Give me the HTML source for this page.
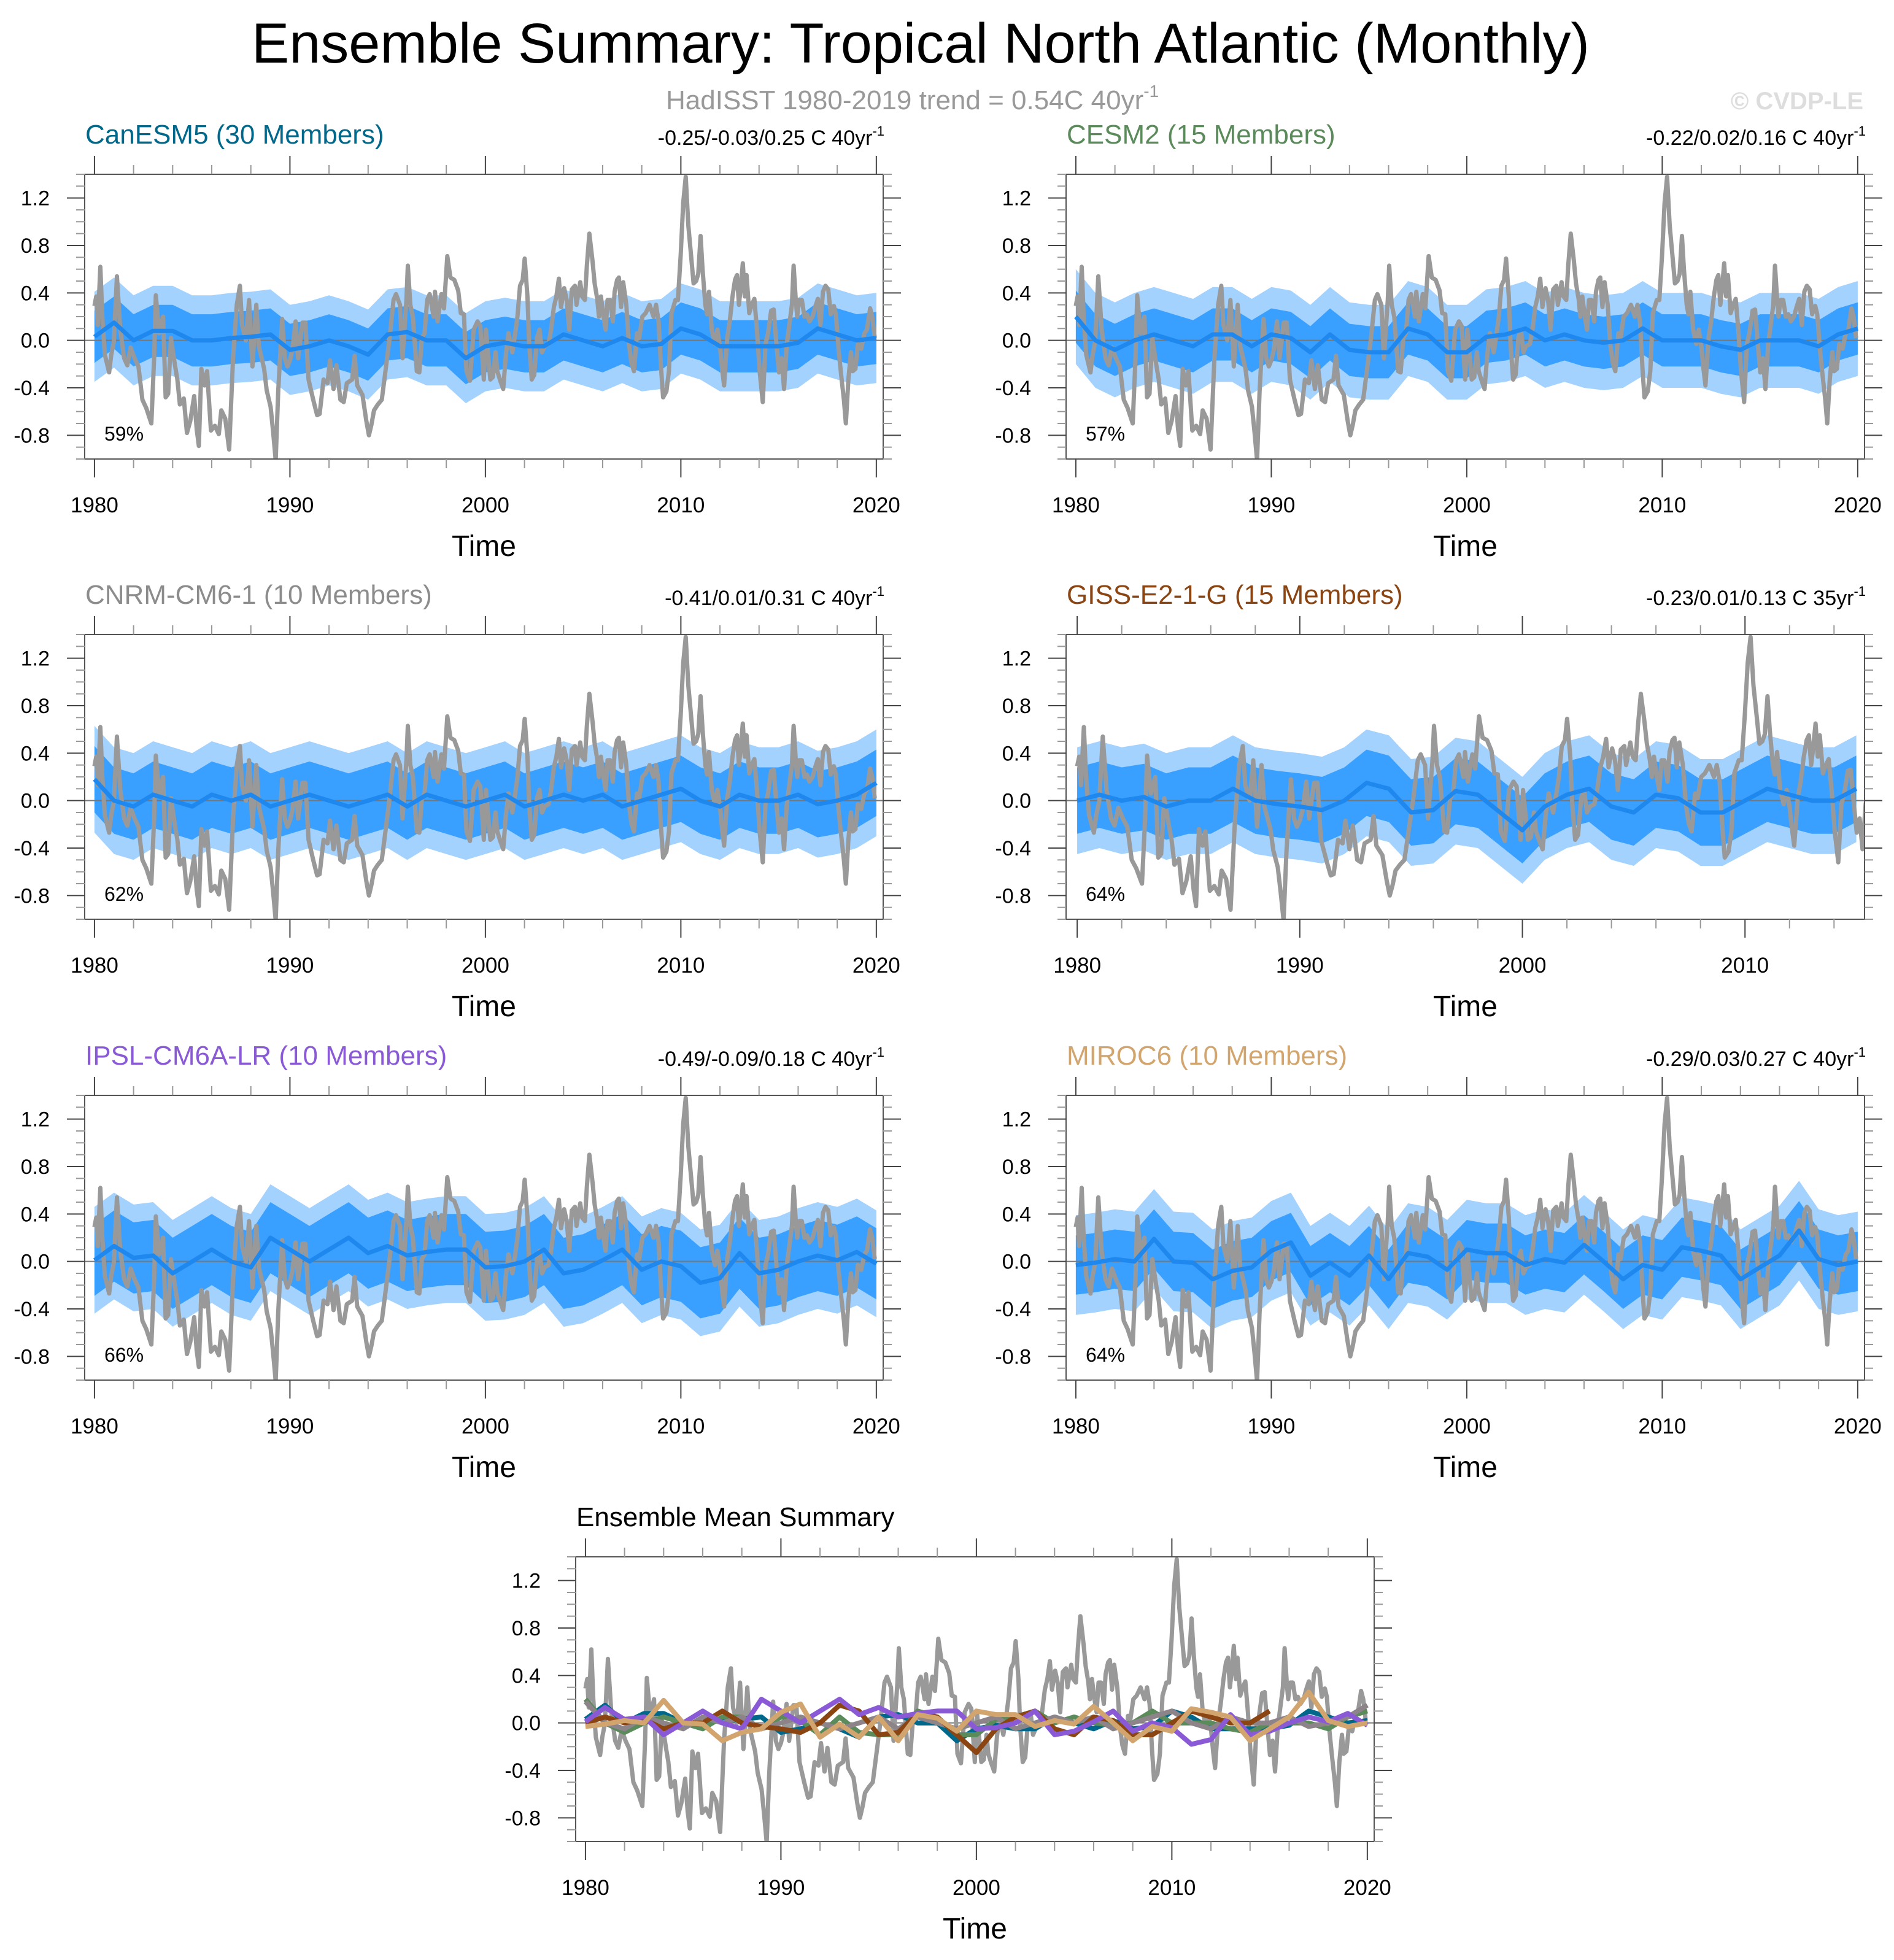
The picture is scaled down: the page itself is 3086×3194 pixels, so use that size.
<!DOCTYPE html>
<html><head><meta charset="utf-8"><title>Ensemble Summary: Tropical North Atlantic (Monthly)</title>
<style>
html,body{margin:0;padding:0;background:#fff;}
svg{display:block;font-family:"Liberation Sans",Arial,sans-serif;}
</style></head>
<body>
<svg id="fig" width="3086" height="3194" viewBox="0 0 3086 3194" xmlns="http://www.w3.org/2000/svg">
<rect x="0" y="0" width="3086" height="3194" fill="#fff"/>
<text x="1500" y="102" font-size="92" text-anchor="middle" fill="#000" textLength="2180" lengthAdjust="spacingAndGlyphs">Ensemble Summary: Tropical North Atlantic (Monthly)</text>
<text x="1085" y="178" font-size="44" fill="#999">HadISST 1980-2019 trend = 0.54C 40yr<tspan font-size="28" dy="-20">-1</tspan></text>
<text x="3036" y="178" font-size="40" font-weight="bold" fill="#ddd" text-anchor="end">© CVDP-LE</text>
<g id="panels"></g>
</svg>
<script>
// ---- data ----
const xTickYears = [1980,1990,2000,2010,2020];
const yTickVals = [-0.8,-0.4,0.0,0.4,0.8,1.2];
const meanYears = [1980,1981,1982,1983,1984,1985,1986,1987,1988,1989,1990,1991,1992,1993,1994,1995,1996,1997,1998,1999,2000,2001,2002,2003,2004,2005,2006,2007,2008,2009,2010,2011,2012,2013,2014,2015,2016,2017,2018,2019,2020];
const obsYears = [1980.00,1980.09,1980.17,1980.30,1980.40,1980.53,1980.75,1980.86,1980.99,1981.15,1981.32,1981.52,1981.68,1981.85,1982.05,1982.25,1982.45,1982.65,1982.91,1983.05,1983.14,1983.31,1983.51,1983.64,1983.77,1983.91,1984.11,1984.24,1984.37,1984.57,1984.73,1984.90,1985.10,1985.23,1985.34,1985.47,1985.63,1985.76,1985.96,1986.16,1986.36,1986.49,1986.69,1986.89,1987.09,1987.28,1987.44,1987.55,1987.75,1987.91,1988.08,1988.28,1988.41,1988.68,1988.81,1989.01,1989.14,1989.27,1989.40,1989.60,1989.74,1989.87,1990.00,1990.13,1990.29,1990.42,1990.64,1990.79,1990.95,1991.19,1991.39,1991.52,1991.72,1991.92,1992.05,1992.23,1992.38,1992.58,1992.75,1992.91,1993.18,1993.31,1993.44,1993.71,1993.91,1994.04,1994.17,1994.30,1994.50,1994.70,1994.90,1995.10,1995.30,1995.43,1995.63,1995.76,1995.96,1996.03,1996.16,1996.29,1996.49,1996.62,1996.75,1996.89,1997.02,1997.15,1997.35,1997.42,1997.55,1997.75,1997.88,1998.05,1998.21,1998.41,1998.61,1998.74,1998.90,1999.03,1999.21,1999.40,1999.60,1999.74,1999.92,2000.03,2000.25,2000.38,2000.52,2000.61,2000.74,2000.91,2001.05,2001.18,2001.38,2001.51,2001.64,2001.77,2001.91,2002.01,2002.15,2002.24,2002.37,2002.50,2002.64,2002.77,2002.90,2003.03,2003.23,2003.36,2003.50,2003.63,2003.76,2003.87,2004.03,2004.16,2004.29,2004.42,2004.58,2004.66,2004.75,2004.85,2004.95,2005.09,2005.19,2005.32,2005.48,2005.59,2005.72,2005.81,2005.91,2006.04,2006.15,2006.25,2006.38,2006.52,2006.61,2006.74,2006.83,2006.94,2007.05,2007.21,2007.34,2007.47,2007.60,2007.76,2007.87,2008.03,2008.20,2008.40,2008.60,2008.73,2008.86,2008.99,2009.09,2009.26,2009.39,2009.52,2009.72,2009.85,2009.99,2010.12,2010.25,2010.38,2010.52,2010.65,2010.78,2010.89,2011.01,2011.11,2011.25,2011.34,2011.44,2011.58,2011.74,2011.87,2012.00,2012.11,2012.21,2012.37,2012.50,2012.64,2012.77,2012.87,2012.97,2013.06,2013.17,2013.27,2013.36,2013.50,2013.63,2013.76,2013.89,2014.03,2014.19,2014.33,2014.46,2014.62,2014.75,2014.89,2015.02,2015.15,2015.28,2015.42,2015.55,2015.68,2015.77,2015.88,2015.95,2016.05,2016.19,2016.32,2016.45,2016.58,2016.74,2016.87,2017.01,2017.14,2017.27,2017.40,2017.54,2017.67,2017.83,2017.93,2018.07,2018.20,2018.34,2018.44,2018.57,2018.70,2018.79,2018.93,2019.06,2019.23,2019.39,2019.52,2019.68,2019.79,2019.92];
const obsVals = [0.29,0.37,0.13,0.62,0.20,-0.12,-0.27,-0.12,-0.01,0.54,0.09,-0.15,-0.21,-0.06,-0.15,-0.22,-0.50,-0.57,-0.70,-0.15,0.38,0.06,0.20,-0.48,-0.45,0.02,-0.20,-0.33,-0.54,-0.49,-0.78,-0.68,-0.47,-0.75,-0.89,-0.24,-0.38,-0.26,-0.76,-0.72,-0.79,-0.59,-0.66,-0.92,-0.15,0.30,0.46,0.13,0.00,0.34,-0.22,0.30,-0.05,-0.24,-0.42,-0.56,-0.77,-1.01,-0.43,0.18,-0.15,-0.22,-0.17,-0.08,0.16,-0.15,0.15,0.15,-0.33,-0.50,-0.63,-0.62,-0.33,-0.36,-0.17,-0.41,-0.21,-0.50,-0.52,-0.36,-0.33,-0.13,-0.38,-0.46,-0.68,-0.80,-0.71,-0.59,-0.54,-0.50,-0.24,0.02,0.34,0.39,0.30,-0.15,0.34,0.63,0.30,0.20,-0.26,-0.27,0.02,0.06,0.34,0.39,0.20,0.41,0.16,0.39,0.27,0.71,0.53,0.51,0.42,0.23,0.22,-0.26,-0.34,0.09,0.16,0.12,-0.33,0.09,-0.33,-0.31,-0.10,-0.26,-0.33,-0.41,-0.12,0.06,-0.10,0.04,0.20,0.46,0.51,0.69,0.37,-0.03,-0.33,-0.29,0.02,0.09,-0.10,-0.05,-0.03,0.09,0.28,0.37,0.52,0.28,0.44,0.34,0.09,0.43,0.46,0.30,0.39,0.49,0.37,0.34,0.63,0.90,0.67,0.48,0.35,0.20,0.37,0.20,0.09,0.34,0.34,0.16,0.41,0.51,0.53,0.28,0.49,0.30,-0.03,-0.19,-0.26,0.06,0.02,0.20,0.23,0.30,0.20,0.30,0.16,-0.24,-0.48,-0.43,-0.26,0.23,0.34,0.34,0.72,1.16,1.38,0.97,0.72,0.48,0.50,0.56,0.88,0.60,0.30,0.22,0.41,0.09,-0.03,0.09,-0.05,-0.24,-0.38,0.02,0.16,0.37,0.51,0.55,0.30,0.44,0.65,0.37,0.55,0.23,0.30,0.35,0.09,-0.26,-0.52,-0.03,0.06,0.25,0.26,-0.03,-0.27,-0.15,-0.41,-0.03,0.13,0.30,0.63,0.34,0.20,0.34,0.34,0.20,0.22,0.16,0.20,0.28,0.35,0.13,0.41,0.46,0.43,0.22,0.29,0.22,-0.08,-0.29,-0.50,-0.70,-0.33,-0.10,-0.26,-0.24,-0.03,-0.07,0.06,0.09,0.27,0.20,0.02];
const canMean  = [0.03,0.15,0.00,0.08,0.08,0.00,0.00,0.02,0.03,0.05,-0.08,-0.05,0.00,-0.05,-0.12,0.05,0.07,0.00,0.00,-0.15,-0.05,-0.02,-0.05,-0.05,0.05,0.00,-0.05,0.02,-0.05,-0.03,0.10,0.05,-0.05,-0.05,-0.05,-0.05,-0.02,0.10,0.05,0.00,0.02];
const cesmMean = [0.20,0.00,-0.08,0.00,0.05,0.00,-0.05,0.05,0.05,-0.05,0.05,0.02,-0.10,0.05,-0.08,-0.10,-0.10,0.10,0.05,-0.10,-0.10,0.03,0.05,0.10,0.00,0.05,0.00,-0.02,0.00,0.10,0.00,0.00,0.00,-0.05,-0.08,0.00,0.00,0.00,-0.05,0.05,0.10];
const cnrmMean = [0.18,0.00,-0.05,0.05,0.00,-0.05,0.05,0.00,0.05,-0.05,0.00,0.05,0.00,-0.05,0.00,0.05,-0.05,0.05,0.00,-0.05,0.00,0.05,-0.05,0.00,0.05,0.00,0.05,-0.05,0.00,0.05,0.10,0.00,-0.05,0.05,0.00,0.00,0.05,-0.03,0.00,0.05,0.15];
const gissMean = [0.00,0.05,0.00,0.03,-0.05,0.00,0.00,0.10,0.00,-0.03,-0.05,-0.08,0.00,0.15,0.10,-0.10,-0.08,0.08,0.05,-0.10,-0.25,-0.05,0.05,0.10,-0.05,-0.10,0.05,0.02,-0.10,-0.10,0.00,0.10,0.05,0.00,0.00,0.10];
const ipslMean = [0.01,0.13,0.03,0.05,-0.10,0.00,0.10,0.00,-0.05,0.20,0.10,0.00,0.10,0.20,0.07,0.13,0.05,0.08,0.10,0.10,-0.05,-0.04,0.00,0.10,-0.10,-0.07,0.01,0.10,-0.07,0.00,-0.04,-0.18,-0.14,0.07,-0.10,-0.07,0.00,0.05,0.01,0.08,-0.02];
const mirocMean = [-0.03,-0.01,0.02,0.00,0.19,0.00,-0.01,-0.15,-0.08,-0.05,0.09,0.16,-0.12,-0.01,-0.12,0.05,-0.15,0.07,0.04,-0.07,0.10,0.07,0.07,-0.03,0.02,-0.01,0.14,0.00,-0.15,-0.03,-0.07,0.12,0.09,0.05,-0.15,-0.05,0.05,0.26,0.02,-0.03,0.00];
const outerSpread = [0.38,0.40,0.45,0.45,0.45,0.42];
const innerSpread = [0.22,0.22,0.28,0.28,0.30,0.25];

// ---- layout ----
const NS = "http://www.w3.org/2000/svg";
const root = document.getElementById('panels');
const W = 1301, H = 464, YMIN = -1.0, YMAX = 1.4;
function mk(tag, attrs, parent){
  const e = document.createElementNS(NS, tag);
  for (const k in attrs) e.setAttribute(k, attrs[k]);
  (parent||root).appendChild(e);
  return e;
}
let clipId = 0;
function drawPanel(cfg){
  const g = mk('g', {});
  
  
  const L = cfg.x, T = cfg.y, R = L + W, B = T + H;
  const x0 = 1979.5, x1 = cfg.xmax;
  const sx = v => L + (v - x0) / (x1 - x0) * W;
  const sy = v => B - (v - YMIN) / (YMAX - YMIN) * H;
  const t = mk('text', {x: L + 1, y: T - 50, 'font-size': 44, fill: cfg.color}, g);
  t.textContent = cfg.title;
  
  
  if (cfg.range){
    const r = mk('text', {x: R + 2, y: T - 48, 'font-size': 34, 'text-anchor': 'end', fill: '#000'}, g);
    r.textContent = cfg.range;
    const sup = mk('tspan', {'font-size': 22, dy: -15}, r);
    sup.textContent = '-1';
    
    
  }
  clipId++;
  const cp = mk('clipPath', {id: 'c' + clipId}, g);
  mk('rect', {x: L, y: T, width: W, height: H}, cp);
  const plot = mk('g', {'clip-path': 'url(#c' + clipId + ')'}, g);
  
  
  if (cfg.mean && cfg.bands){
    const m = cfg.mean;
    const yrs = meanYears.slice(0, m.length);
    const band = (sp, col, nm) => {
      let pts = yrs.map((y,i) => sx(y).toFixed(1) + ',' + sy(m[i] + sp).toFixed(1));
      let low = yrs.map((y,i) => sx(y).toFixed(1) + ',' + sy(m[i] - sp).toFixed(1)).reverse();
      const p = mk('polygon', {points: pts.concat(low).join(' '), fill: col}, plot);
      
      
    };
    band(cfg.outer, '#a3d2ff', '-outer-band');
    band(cfg.inner, '#3aa0ff', '-inner-band');
  }
  const z = mk('line', {x1: L, x2: R, y1: sy(0), y2: sy(0), stroke: '#777', 'stroke-width': 2}, plot);
  
  
  const op = mk('polyline', {points: obsYears.map((y,i)=> sx(y).toFixed(1)+','+sy(obsVals[i]).toFixed(1)).join(' '), fill: 'none', stroke: '#999', 'stroke-width': 7, 'stroke-linejoin': 'round'}, plot);
  
  
  (cfg.lines || []).forEach(ln => {
    const yrs = meanYears.slice(0, ln.data.length);
    const pl = mk('polyline', {points: yrs.map((y,i)=> sx(y).toFixed(1)+','+sy(ln.data[i]).toFixed(1)).join(' '), fill: 'none', stroke: ln.color, 'stroke-width': ln.w, 'stroke-linejoin': 'round'}, plot);
    
    
  });
  const fr = mk('rect', {x: L, y: T, width: W, height: H, fill: 'none', stroke: '#555', 'stroke-width': 2}, g);
  
  
  for (let k = -10; k <= 14; k++){
    const v = k / 10, yy = sy(v);
    const major = (k % 4 === 0) && k >= -8 && k <= 12;
    const len = major ? 29 : 14;
    mk('line', {x1: L - len, x2: L, y1: yy, y2: yy, stroke: major ? '#444' : '#999', 'stroke-width': 2}, g);
    mk('line', {x1: R, x2: R + len, y1: yy, y2: yy, stroke: major ? '#444' : '#999', 'stroke-width': 2}, g);
  }
  yTickVals.forEach(v => {
    const tl = mk('text', {x: L - 57, y: sy(v) + 12, 'font-size': 34, 'text-anchor': 'end', fill: '#000'}, g);
    tl.textContent = v.toFixed(1);
    
    
  });
  for (let yr = 1980; yr <= Math.floor(x1); yr += 2){
    const xx = sx(yr), major = yr % 10 === 0;
    const len = major ? 30 : 15;
    mk('line', {x1: xx, x2: xx, y1: T - len, y2: T, stroke: major ? '#444' : '#999', 'stroke-width': 2}, g);
    mk('line', {x1: xx, x2: xx, y1: B, y2: B + len, stroke: major ? '#444' : '#999', 'stroke-width': 2}, g);
  }
  xTickYears.filter(y => y <= x1).forEach(y => {
    const tl = mk('text', {x: sx(y), y: B + 87, 'font-size': 35, 'text-anchor': 'middle', fill: '#000'}, g);
    tl.textContent = String(y);
    
    
  });
  const xt = mk('text', {x: L + W/2, y: B + 158, 'font-size': 48, 'text-anchor': 'middle', fill: '#000'}, g);
  xt.textContent = 'Time';
  
  
  if (cfg.pct){
    const pt = mk('text', {x: L + 32, y: B - 30, 'font-size': 32, fill: '#000'}, g);
    pt.textContent = cfg.pct;
    
    
  }
}
const ML = '#1f88ee';
const panels = [
  {id:'canesm5', title:'CanESM5 (30 Members)', color:'#00688b', range:'-0.25/-0.03/0.25 C 40yr', pct:'59%', x:138, y:284, xmax:2020.35, mean:canMean, k:0},
  {id:'cesm2', title:'CESM2 (15 Members)', color:'#5b8a5b', range:'-0.22/0.02/0.16 C 40yr', pct:'57%', x:1737, y:284, xmax:2020.35, mean:cesmMean, k:1},
  {id:'cnrm', title:'CNRM-CM6-1 (10 Members)', color:'#8c8c8c', range:'-0.41/0.01/0.31 C 40yr', pct:'62%', x:138, y:1034, xmax:2020.35, mean:cnrmMean, k:2},
  {id:'giss', title:'GISS-E2-1-G (15 Members)', color:'#8b4513', range:'-0.23/0.01/0.13 C 35yr', pct:'64%', x:1737, y:1034, xmax:2015.37, mean:gissMean, k:3},
  {id:'ipsl', title:'IPSL-CM6A-LR (10 Members)', color:'#8a5ad6', range:'-0.49/-0.09/0.18 C 40yr', pct:'66%', x:138, y:1785, xmax:2020.35, mean:ipslMean, k:4},
  {id:'miroc6', title:'MIROC6 (10 Members)', color:'#d2a56e', range:'-0.29/0.03/0.27 C 40yr', pct:'64%', x:1737, y:1785, xmax:2020.35, mean:mirocMean, k:5}
];
panels.forEach(p => {
  p.bands = true;
  p.outer = outerSpread[p.k];
  p.inner = innerSpread[p.k];
  p.lines = [{data: p.mean, color: ML, w: 7, name: p.id + '-ensemble-mean-line'}];
  drawPanel(p);
});
drawPanel({id:'summary', title:'Ensemble Mean Summary', color:'#000', x:938, y:2537, xmax:2020.35,
  lines: [
    {data: canMean, color:'#00688b', w:8, name:'summary-canesm5-line'},
    {data: cesmMean, color:'#5b8a5b', w:8, name:'summary-cesm2-line'},
    {data: cnrmMean, color:'#8c8489', w:8, name:'summary-cnrm-line'},
    {data: gissMean, color:'#8b4513', w:8, name:'summary-giss-line'},
    {data: ipslMean, color:'#8a5ad6', w:8, name:'summary-ipsl-line'},
    {data: mirocMean, color:'#d2a56e', w:8, name:'summary-miroc6-line'}
  ]});
</script>
</body></html>
